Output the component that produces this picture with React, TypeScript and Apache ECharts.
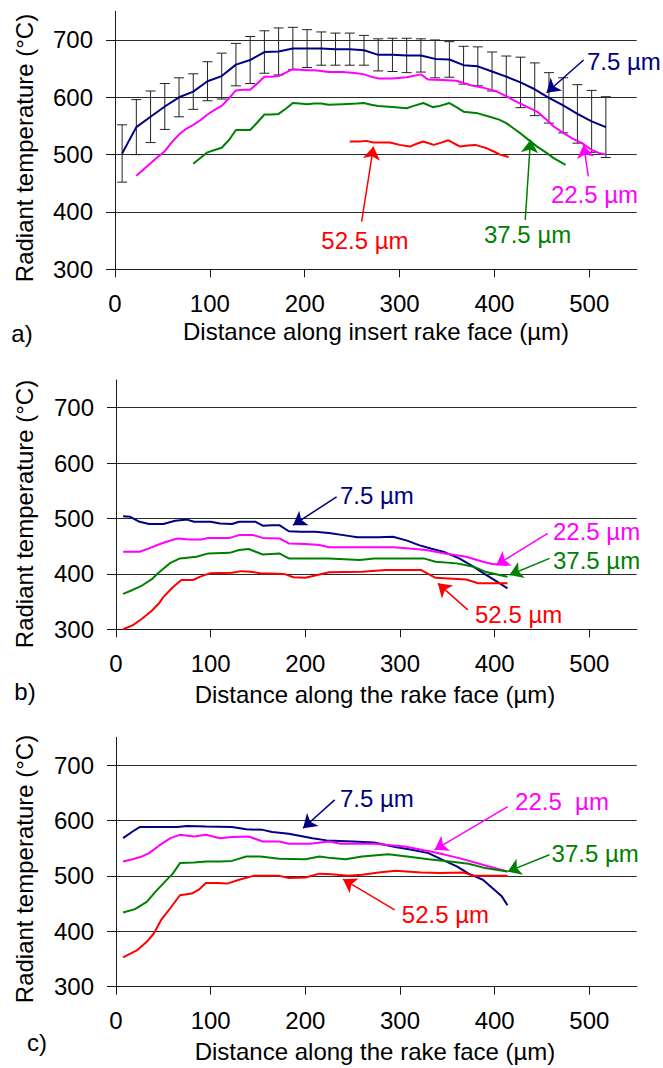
import React, { useEffect, useRef } from "react";
import * as echarts from "echarts";

// ---------- shared ticks ----------
const xTicks = [0, 100, 200, 300, 400, 500];
const yTicks = [300, 400, 500, 600, 700];

// ---------- panel a ----------
const aNavyX = [7.5, 22.5, 37.5, 52.5, 67.5, 82.5, 97.5, 112.5, 127.5, 142.5, 157.5, 172.5, 187.5, 202.5, 217.5, 232.5, 247.5, 262.5, 277.5, 292.5, 307.5, 322.5, 337.5, 352.5, 367.5, 382.5, 397.5, 412.5, 427.5, 442.5, 457.5, 472.5, 487.5, 502.5, 517.5];
const aNavyY = [502, 548, 566, 584, 600, 610, 628, 637, 657, 665, 679, 680, 685, 685, 685, 684, 684, 682, 674, 674, 673, 673, 667, 666, 656, 654, 645, 636, 626, 614, 599, 586, 571, 558, 548];
const aNavyErr = [50, 48, 45, 40, 34, 31, 34, 40, 37, 41, 37, 41, 37, 33, 29, 28, 28, 26, 28, 29, 30, 29, 33, 31, 33, 34, 34, 36, 44, 46, 44, 48, 51, 54, 53];

const aMagX = [22.5, 30, 37.5, 45, 52.5, 60, 67.5, 75, 82.5, 90, 97.5, 105, 112.5, 120, 127.5, 135, 142.5, 150, 157.5, 165, 172.5, 180, 187.5, 195, 202.5, 210, 217.5, 225, 240, 255, 262.5, 270, 277.5, 292.5, 307.5, 322.5, 330, 345, 360, 367.5, 375, 390, 402.5, 412.5, 422.5, 435, 445, 455, 462.5, 472.5, 482.5, 492.5, 502.5, 510, 517.5];
const aMagY = [463, 474, 485, 496, 506, 522, 535, 545, 552, 560, 570, 578, 585, 598, 612, 613, 613, 624, 636, 636, 637, 643, 649, 648, 647, 647, 646, 644, 644, 642, 640, 636, 633, 633, 635, 640, 631, 630, 629, 625, 621, 616, 610, 602, 593, 583, 575, 561, 549, 538, 528, 520, 508, 503, 500];

const aGreenX = [82.5, 90, 97.5, 105, 112.5, 120, 127.5, 135, 142.5, 150, 157.5, 165, 172.5, 180, 187.5, 195, 202.5, 210, 217.5, 225, 240, 255, 262.5, 270, 277.5, 292.5, 307.5, 315, 325, 335, 342.5, 352.5, 360, 367.5, 382.5, 395, 405, 412.5, 420, 427.5, 435, 445, 455, 462.5, 475];
const aGreenY = [484, 494, 504, 508, 512, 525, 543, 543, 543, 556, 570, 570, 571, 580, 590, 589, 588, 589, 589, 587, 588, 589, 590, 587, 585, 583, 581, 585, 590, 583, 585, 590, 583, 575, 572, 566, 561, 555, 546, 537, 527, 514, 503, 494, 482];

const aRedX = [247.5, 258, 265, 272.5, 290, 300, 311, 318, 325, 336, 344, 351.5, 358, 364, 372, 380, 386, 392, 400, 406, 415];
const aRedY = [523, 523, 524, 521, 521, 517, 514, 519, 523, 517, 521, 525, 519, 514, 516, 517, 514, 511, 505, 500, 496];

// ---------- panel b ----------
const bNavyX = [7.5, 15, 25, 35, 50, 62.5, 75, 82.5, 100, 110, 122.5, 130, 147.5, 155, 165, 172.5, 182.5, 195, 210, 225, 240, 255, 277.5, 292.5, 307.5, 320, 332.5, 347.5, 362.5, 377.5, 390, 402.5, 413.5];
const bNavyY = [504, 503, 494, 490, 490, 496, 498, 494, 494, 491, 490, 494, 494, 487, 488, 488, 477, 476, 476, 474, 470, 466, 466, 467, 460, 452, 446, 439, 428, 413, 399, 386, 374];

const bMagX = [7.5, 25, 35, 45, 55, 65, 77.5, 90, 97.5, 120, 130, 145, 155, 172.5, 182.5, 200, 215, 225, 260, 292.5, 310, 327.5, 347.5, 370, 387.5, 397.5, 413.5];
const bMagY = [440, 440, 446, 453, 459, 464, 462, 462, 465, 465, 470, 470, 465, 464, 455, 454, 452, 448, 448, 448, 446, 443, 437, 431, 422, 418, 416];

const bGreenX = [7.5, 17.5, 27.5, 37.5, 45, 52.5, 57.5, 67.5, 85, 97.5, 120, 130, 140, 155, 172.5, 182.5, 225, 257.5, 272.5, 325, 337.5, 360, 377.5, 390, 405, 413.5];
const bGreenY = [364, 371, 379, 390, 402, 413, 420, 428, 431, 437, 438, 443, 445, 435, 437, 428, 428, 425, 428, 428, 422, 419, 413, 404, 398, 395];

const bRedX = [7.5, 17.5, 27.5, 37.5, 45, 50, 60, 69, 81.5, 89, 99, 122.5, 132.5, 142.5, 152.5, 177.5, 187.5, 200, 215, 225, 260, 285, 322.5, 337.5, 370, 382.5, 413.5];
const bRedY = [300, 307, 319, 333, 346, 358, 376, 389, 389, 395, 401, 402, 405, 404, 401, 400, 394, 393, 399, 403, 404, 407, 407, 393, 390, 383, 383];

// ---------- panel c ----------
const cNavyX = [7.5, 17.5, 25, 65, 75, 95, 122.5, 137.5, 155, 165, 182.5, 195, 207.5, 222.5, 250, 272.5, 295, 312.5, 330, 345, 360, 372.5, 387.5, 397.5, 407.5, 413.5];
const cNavyY = [568, 580, 588, 588, 590, 589, 588, 584, 583, 579, 576, 572, 568, 564, 562, 560, 552, 547, 541, 529, 517, 504, 493, 478, 463, 447];

const cMagX = [7.5, 17.5, 27.5, 35, 45, 57.5, 67.5, 82.5, 95, 110, 122.5, 140, 155, 172.5, 182.5, 205, 225, 237.5, 272.5, 305, 337.5, 362.5, 387.5, 413.5];
const cMagY = [526, 530, 535, 541, 554, 568, 574, 571, 574, 568, 570, 571, 562, 562, 558, 558, 562, 558, 558, 553, 542, 532, 520, 508];

const cGreenX = [7.5, 20, 32.5, 42.5, 52.5, 60, 67.5, 82.5, 95, 110, 122.5, 137.5, 152.5, 172.5, 200, 215, 227.5, 242.5, 260, 287.5, 307.5, 330, 352.5, 372.5, 390, 413.5];
const cGreenY = [434, 440, 453, 473, 491, 504, 523, 524, 526, 526, 527, 535, 535, 531, 530, 535, 532, 530, 535, 539, 535, 530, 526, 522, 514, 508];

const cRedX = [7.5, 22.5, 32.5, 40, 47.5, 57.5, 67.5, 80, 87.5, 95, 107.5, 117.5, 130, 145, 172.5, 182.5, 200, 215, 227.5, 245, 260, 277.5, 295, 322.5, 342.5, 367.5, 377.5, 413.5];
const cRedY = [353, 366, 381, 396, 420, 442, 465, 468, 475, 487, 487, 486, 493, 500, 500, 496, 497, 504, 503, 500, 502, 506, 509, 506, 505, 506, 500, 500];

// ---------- labels ----------
const depthLabels = ["7.5 µm", "22.5 µm", "37.5 µm", "52.5 µm"];
const yTitle = "Radiant temperature (°C)";
const xTitles = ["Distance along insert rake face (µm)", "Distance along the rake face (µm)", "Distance along the rake face (µm)"];
const panelLabels = ["a)", "b)", "c)"];

const NAVY = "#000080";
const MAGENTA = "#FF00FF";
const GREEN = "#008000";
const RED = "#FF0000";
const FONT = '"Liberation Sans", Arial, sans-serif';
const AXIS = "#1a1a1a";

const zip = (xs: number[], ys: number[]) => xs.map((x, i) => [x, ys[i]]);

type Ann = { text: string; at: number[]; from: number[]; to: number[] };

function lineSeries(g: number, color: string, data: number[][], ann: Ann) {
  return {
    type: "line",
    xAxisIndex: g,
    yAxisIndex: g,
    data,
    showSymbol: false,
    symbol: "none",
    lineStyle: { color, width: 2 },
    itemStyle: { color },
    z: 3,
    markLine: {
      silent: true,
      symbol: ["none", "arrow"],
      symbolSize: 13,
      label: { show: false },
      emphasis: { disabled: true },
      lineStyle: { color, width: 1.5, type: "solid" },
      data: [[{ coord: ann.from }, { coord: ann.to }]],
    },
    markPoint: {
      silent: true,
      symbol: "circle",
      symbolSize: 1,
      itemStyle: { color: "transparent" },
      label: {
        show: true,
        position: "right",
        distance: 0,
        formatter: ann.text,
        color,
        fontSize: 24,
        fontFamily: FONT,
      },
      data: [{ coord: ann.at, value: 0 }],
    },
  };
}

function xAxis(g: number) {
  return {
    type: "value",
    gridIndex: g,
    min: 0,
    max: 550,
    interval: 100,
    axisLine: { show: true, onZero: false, lineStyle: { color: AXIS, width: 1 } },
    axisTick: { show: true, inside: false, length: 8, customValues: xTicks, lineStyle: { color: AXIS } },
    axisLabel: { fontSize: 24, color: "#000", fontFamily: FONT, margin: 22, customValues: xTicks },
    splitLine: { show: false },
  };
}

function yAxis(g: number) {
  return {
    type: "value",
    gridIndex: g,
    min: 300,
    max: 750,
    interval: 100,
    axisLine: { show: true, onZero: false, lineStyle: { color: AXIS, width: 1 } },
    axisTick: { show: true, inside: false, length: 9, customValues: yTicks, lineStyle: { color: AXIS } },
    axisLabel: { fontSize: 24, color: "#000", fontFamily: FONT, margin: 22, customValues: yTicks },
    splitLine: { show: true, showMinLine: false, lineStyle: { color: "#2a2a2a", width: 1 } },
  };
}

function txt(x: number, y: number, text: string, rot = 0) {
  return {
    type: "text",
    x,
    y,
    rotation: rot,
    silent: true,
    style: { text, fontSize: 24, fontFamily: FONT, fill: "#000", align: "center", verticalAlign: "middle" },
  };
}

export default function App() {
  const ref = useRef<HTMLDivElement>(null);
  useEffect(() => {
    if (!ref.current) return;
    const chart = echarts.init(ref.current, undefined, { renderer: "svg" });

    const errData = aNavyX.map((x, i) => [x, aNavyY[i] - aNavyErr[i], aNavyY[i] + aNavyErr[i]]);

    const option: any = {
      animation: false,
      backgroundColor: "#fff",
      grid: [
        { left: 115, top: 11.3, width: 521.7, height: 258, outerBoundsMode: "none", containLabel: false },
        { left: 116, top: 380, width: 520.7, height: 249.3, outerBoundsMode: "none", containLabel: false },
        { left: 116, top: 737.3, width: 520.7, height: 249.4, outerBoundsMode: "none", containLabel: false },
      ],
      xAxis: [xAxis(0), xAxis(1), xAxis(2)],
      yAxis: [yAxis(0), yAxis(1), yAxis(2)],
      series: [
        {
          type: "custom",
          xAxisIndex: 0,
          yAxisIndex: 0,
          data: errData,
          encode: { x: 0, y: [1, 2] },
          z: 2,
          silent: true,
          renderItem: (params: any, api: any) => {
            const x = api.value(0);
            const lo = api.coord([x, api.value(1)]);
            const hi = api.coord([x, api.value(2)]);
            const w = 5;
            const style = { stroke: "#222", lineWidth: 1 };
            return {
              type: "group",
              children: [
                { type: "line", shape: { x1: lo[0], y1: lo[1], x2: hi[0], y2: hi[1] }, style },
                { type: "line", shape: { x1: lo[0] - w, y1: lo[1], x2: lo[0] + w, y2: lo[1] }, style },
                { type: "line", shape: { x1: hi[0] - w, y1: hi[1], x2: hi[0] + w, y2: hi[1] }, style },
              ],
            };
          },
        },
        // panel a
        lineSeries(0, NAVY, zip(aNavyX, aNavyY), { text: depthLabels[0], at: [497, 662], from: [494, 665], to: [455, 608] }),
        lineSeries(0, MAGENTA, zip(aMagX, aMagY), { text: depthLabels[1], at: [459, 430], from: [499, 462], to: [494, 517] }),
        lineSeries(0, GREEN, zip(aGreenX, aGreenY), { text: depthLabels[2], at: [388.5, 360], from: [432.5, 386], to: [438, 526] }),
        lineSeries(0, RED, zip(aRedX, aRedY), { text: depthLabels[3], at: [217, 351], from: [260, 383], to: [272.5, 514] }),
        // panel b
        lineSeries(1, NAVY, zip(bNavyX, bNavyY), { text: depthLabels[0], at: [236, 542], from: [233, 539], to: [187, 488] }),
        lineSeries(1, MAGENTA, zip(bMagX, bMagY), { text: depthLabels[1], at: [461, 476], from: [456, 473], to: [401.6, 416] }),
        lineSeries(1, GREEN, zip(bGreenX, bGreenY), { text: depthLabels[2], at: [461, 425], from: [458, 428], to: [415.6, 398] }),
        lineSeries(1, RED, zip(bRedX, bRedY), { text: depthLabels[3], at: [378.7, 326], from: [371.6, 335], to: [340, 383] }),
        // panel c
        lineSeries(2, NAVY, zip(cNavyX, cNavyY), { text: depthLabels[0], at: [236, 639], from: [231, 637], to: [197.6, 586] }),
        lineSeries(2, MAGENTA, zip(cMagX, cMagY), { text: "22.5  µm", at: [421, 634], from: [413.8, 625], to: [336.5, 547] }),
        lineSeries(2, GREEN, zip(cGreenX, cGreenY), { text: depthLabels[2], at: [459.6, 541], from: [457.8, 538], to: [413.8, 507.6] }),
        lineSeries(2, RED, zip(cRedX, cRedY), { text: depthLabels[3], at: [301.4, 431], from: [294.3, 438.5], to: [239.8, 494] }),
      ],
      graphic: [
        txt(24, 148, yTitle, Math.PI / 2),
        txt(24, 514, yTitle, Math.PI / 2),
        txt(24, 869, yTitle, Math.PI / 2),
        txt(376, 331, xTitles[0]),
        txt(375, 694, xTitles[1]),
        txt(375, 1051, xTitles[2]),
        txt(22, 333, panelLabels[0]),
        txt(25, 691, panelLabels[1]),
        txt(37, 1042, panelLabels[2]),
      ],
    };
    chart.setOption(option);
    return () => chart.dispose();
  }, []);
  return (
    <div
      ref={ref}
      style={{ position: "absolute", left: 0, top: 0, width: 663, height: 1068, background: "#fff" }}
    />
  );
}
